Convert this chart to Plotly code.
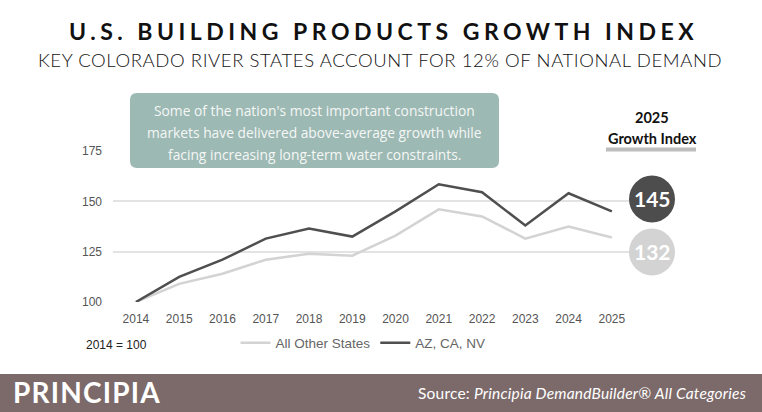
import plotly.graph_objects as go

years = [2014, 2015, 2016, 2017, 2018, 2019, 2020, 2021, 2022, 2023, 2024, 2025]
other_states = [100, 109, 114, 121, 124, 123, 133, 146, 142.5, 131.5, 137.5, 132]
az_ca_nv = [100, 112.5, 121, 131.5, 136.5, 132.5, 145, 158.5, 154.5, 138, 154, 145]
y_ticks = [100, 125, 150, 175]

W, H = 762, 412
L, R, T, B = 113, 119, 151, 110  # plot area 113..643 x 151..302
pw, ph = W - L - R, H - T - B


def px(x):
    return (x - L) / pw


def py(y):
    return (H - B - y) / ph


def round_rect(x0, y0, x1, y1, r):
    # pixel coords -> rounded rect path in paper coords
    pts = [
        ("M", x0 + r, y0), ("L", x1 - r, y0), ("Q", x1, y0, x1, y0 + r),
        ("L", x1, y1 - r), ("Q", x1, y1, x1 - r, y1),
        ("L", x0 + r, y1), ("Q", x0, y1, x0, y1 - r),
        ("L", x0, y0 + r), ("Q", x0, y0, x0 + r, y0),
    ]
    s = ""
    for p in pts:
        if p[0] == "Q":
            s += f"Q {px(p[1]):.4f},{py(p[2]):.4f} {px(p[3]):.4f},{py(p[4]):.4f} "
        else:
            s += f"{p[0]} {px(p[1]):.4f},{py(p[2]):.4f} "
    return s + "Z"


fig = go.Figure()
fig.add_trace(go.Scatter(x=years, y=other_states, mode="lines", name="All Other States",
                         line=dict(color="#d3d3d3", width=2.5), cliponaxis=False))
fig.add_trace(go.Scatter(x=years, y=az_ca_nv, mode="lines", name="AZ, CA, NV",
                         line=dict(color="#4f4f4f", width=2.5), cliponaxis=False))

shapes = []
# footer band
shapes.append(dict(type="rect", xref="paper", yref="paper", x0=px(0), x1=px(W), y0=py(H), y1=py(374),
                   fillcolor="#7c6a6a", line=dict(width=0), layer="below"))
# callout box
shapes.append(dict(type="path", xref="paper", yref="paper", path=round_rect(130, 93, 499, 168, 7),
                   fillcolor="#9db9b3", line=dict(width=0), layer="above"))
# growth index underline
shapes.append(dict(type="rect", xref="paper", yref="paper", x0=px(606), x1=px(696), y0=py(151.5), y1=py(147.5),
                   fillcolor="#bdbdbd", line=dict(width=0)))
# badges
for cy, col in [(199, "#4d4d4d"), (252, "#d3d3d3")]:
    shapes.append(dict(type="circle", xref="paper", yref="paper", x0=px(629), x1=px(675),
                       y0=py(cy + 23.5), y1=py(cy - 23.5), fillcolor=col, line=dict(width=0)))

ann = []
ann.append(dict(text="<span style='letter-spacing:4.5px'><b>U.S. BUILDING PRODUCTS GROWTH INDEX</b></span>",
                x=px(383), y=py(31), font=dict(family="Lato", size=23, color="#111111")))
ann.append(dict(text="<span style='letter-spacing:0.6px'>KEY COLORADO RIVER STATES ACCOUNT FOR 12% OF NATIONAL DEMAND</span>",
                x=px(380), y=py(60), font=dict(family="Lato", size=18.5, color="#111111", weight=300)))
callout = ["Some of the nation's most important construction",
           "markets have delivered above-average growth while",
           "facing increasing long-term water constraints."]
for i, line in enumerate(callout):
    ann.append(dict(text=line, x=px(314), y=py(110 + 22 * i),
                    font=dict(family="Open Sans", size=13.8, color="#f4f7f6")))
ann.append(dict(text="<b>2025</b>", x=px(652), y=py(117), font=dict(family="Lato", size=14.5, color="#111111")))
ann.append(dict(text="<b>Growth Index</b>", x=px(652), y=py(138), font=dict(family="Lato", size=14.5, color="#111111")))
ann.append(dict(text=f"<b>{az_ca_nv[-1]:.0f}</b>", x=px(652), y=py(198), font=dict(family="Lato", size=21, color="#ffffff")))
ann.append(dict(text=f"<b>{other_states[-1]:.0f}</b>", x=px(652), y=py(251), font=dict(family="Lato", size=21, color="#ffffff")))
ann.append(dict(text="2014 = 100", x=px(84), y=py(345), xanchor="left",
                font=dict(family="Liberation Sans", size=12, color="#222222")))
ann.append(dict(text="<span style='letter-spacing:1.2px'><b>PRINCIPIA</b></span>", x=px(11), y=py(392), xanchor="left",
                font=dict(family="Lato", size=28, color="#ffffff")))
ann.append(dict(text="<span style='letter-spacing:0.2px'>Source: <i>Principia DemandBuilder® All Categories</i></span>",
                x=px(748), y=py(393), xanchor="right",
                font=dict(family="Lato", size=15.5, color="#ffffff")))
for a in ann:
    a.update(xref="paper", yref="paper", showarrow=False)
    a.setdefault("xanchor", "center")
    a.setdefault("yanchor", "middle")

fig.update_layout(
    width=W, height=H,
    margin=dict(l=L, r=R, t=T, b=B),
    paper_bgcolor="white", plot_bgcolor="white",
    shapes=shapes, annotations=ann,
    showlegend=True,
    legend=dict(orientation="h", x=px(363), y=py(343), xanchor="center", yanchor="middle",
                font=dict(family="Liberation Sans", size=13.5, color="#666666"), itemwidth=30),
    xaxis=dict(range=[2013.47, 2025.72], tickvals=years, showgrid=False, zeroline=False, showline=False,
               ticklabelstandoff=8,
               tickfont=dict(family="Liberation Sans", size=12, color="#555555"), ticks=""),
    yaxis=dict(range=[100, 175], tickvals=y_ticks, showgrid=True, gridcolor="#e3e3e3", gridwidth=1.5,
               zeroline=False, showline=False, ticklabelstandoff=10,
               tickfont=dict(family="Liberation Sans", size=12, color="#555555")),
)

# page has a default 8px body margin; drop it so the figure fills the window
fig.write_html("out.html", config={"displayModeBar": False},
               post_script="document.body.style.margin='0';document.body.style.overflow='hidden';")
